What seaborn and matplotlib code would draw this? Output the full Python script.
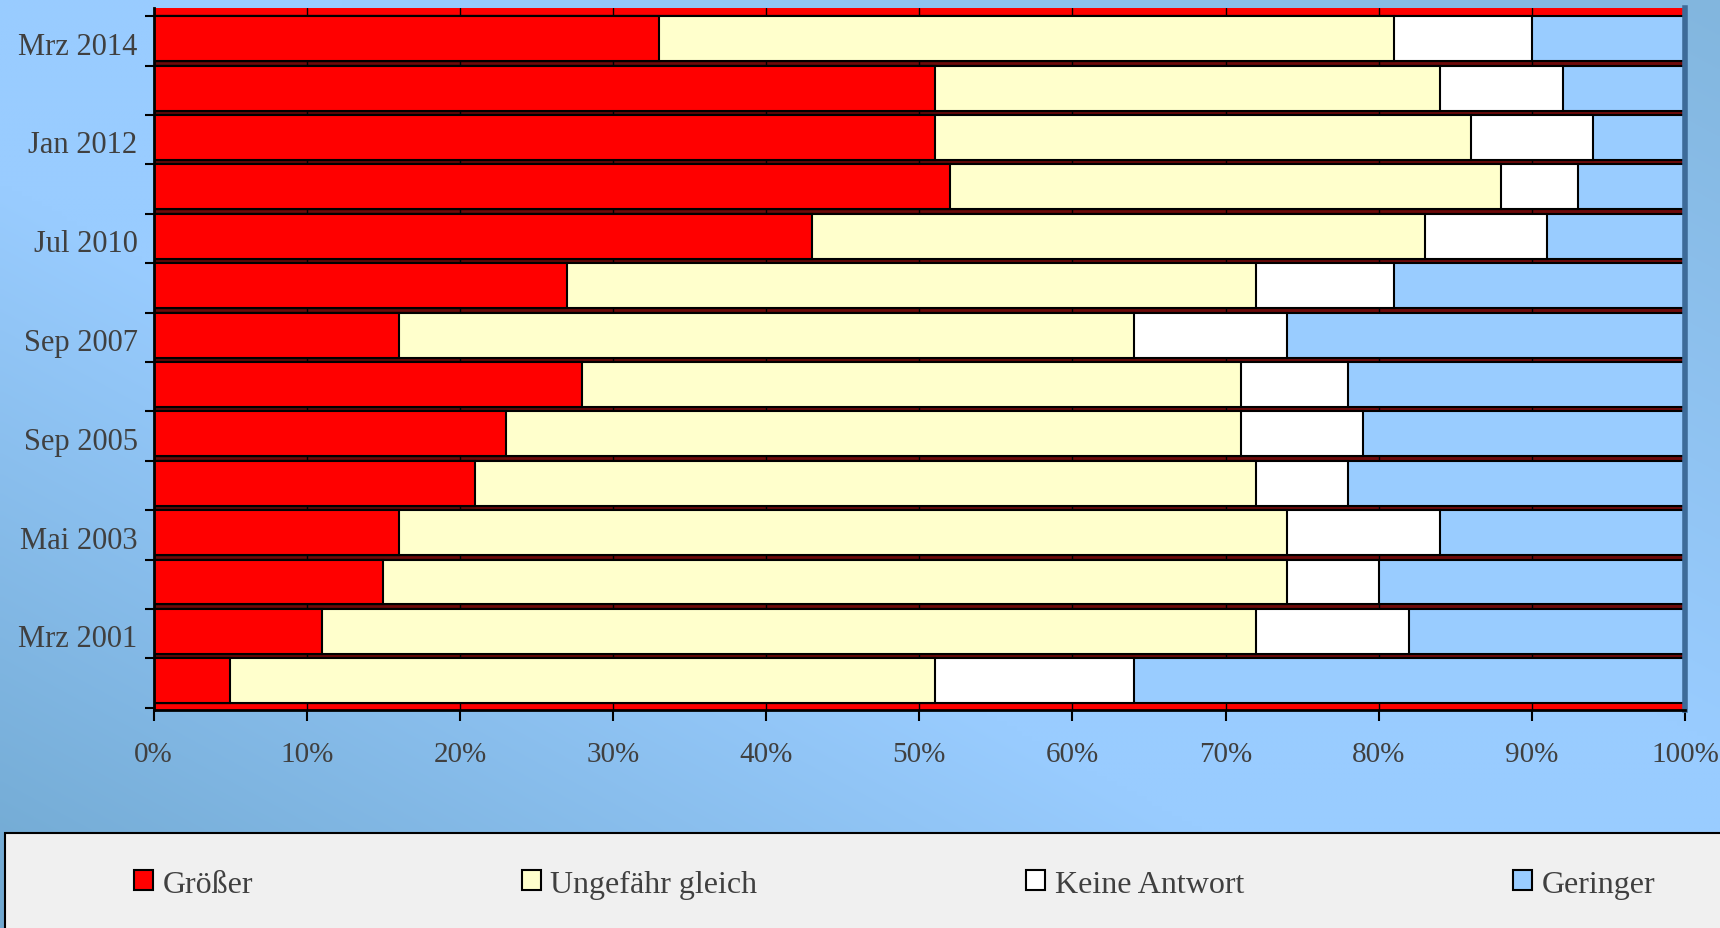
import numpy as np
import pandas as pd
import matplotlib
matplotlib.use("Agg")
import matplotlib.pyplot as plt
from matplotlib.patches import Patch, Rectangle
from matplotlib.transforms import ScaledTranslation
import seaborn as sns

# survey dates (only every second row is labelled in the original)
row_labels = ["Mrz 2014", "", "Jan 2012", "", "Jul 2010", "", "Sep 2007", "",
              "Sep 2005", "", "Mai 2003", "", "Mrz 2001", ""]

# shares in percent
groesser = [33, 51, 51, 52, 43, 27, 16, 28, 23, 21, 16, 15, 11, 5]
gleich = [48, 33, 35, 36, 40, 45, 48, 43, 48, 51, 58, 59, 61, 46]
keine = [9, 8, 8, 5, 8, 9, 10, 7, 8, 6, 10, 6, 10, 13]
geringer = [10, 8, 6, 7, 9, 19, 26, 22, 21, 22, 16, 20, 18, 36]

series_names = ["Größer", "Ungefähr gleich", "Keine Antwort", "Geringer"]
series_colors = ["#ff0000", "#ffffcc", "#ffffff", "#99ccff"]

rows = [f"row{i}" for i in range(len(row_labels))]
df = pd.DataFrame({
    "row": rows,
    "Größer": groesser,
    "Ungefähr gleich": gleich,
    "Keine Antwort": keine,
    "Geringer": geringer,
})
# cumulative sums for the stacked bars
cum = df[series_names].cumsum(axis=1)
cum["row"] = rows

sns.set_theme(style="white")
plt.rcParams["font.family"] = ["Liberation Serif", "DejaVu Serif"]
text_color = "#404040"

fig = plt.figure(figsize=(17.2, 9.29), dpi=100)

# blue gradient background
bg = fig.add_axes([0, 0, 1, 1], zorder=-10)
W, H = 344, 186
xx, yy = np.meshgrid(np.linspace(0, 1, W), np.linspace(0, 1, H))
u = xx - yy
light = np.array([0x99, 0xcc, 0xff]) / 255
dark_bl = np.array([0x70, 0xa8, 0xd0]) / 255
dark_tr = np.array([0x82, 0xb6, 0xde]) / 255
t = np.clip((np.abs(u) - 0.2) / 0.8, 0, 1)[..., None]
dark = np.where((u < 0)[..., None], dark_bl, dark_tr)
img = light * (1 - t) + dark * t
bg.imshow(img, extent=[0, 1, 0, 1], aspect="auto", interpolation="bilinear")
bg.set_axis_off()

ax = fig.add_axes([0.0893, 0.2347, 0.8904, 0.7556])
ax.set_facecolor("#6e0a0a")

for name, color in reversed(list(zip(series_names, series_colors))):
    sns.barplot(data=cum, x=name, y="row", order=rows, orient="h",
                color=color, saturation=1, edgecolor="black", linewidth=1.5,
                width=0.91, errorbar=None, ax=ax)

n = len(rows)
ax.set_xlim(0, 100)
ax.set_ylim(n - 1 + 0.59, -0.62)

# red strips at top and bottom (3D wall / floor look)
ax.axhspan(-0.62, -0.455, color="#ff0000", zorder=0.3)
ax.axhspan(n - 1 + 0.455, n - 1 + 0.59, color="#ff0000", zorder=0.3)
ax.xaxis.grid(True, color="black", linewidth=1)
ax.set_axisbelow(True)

ax.set_xticks(range(0, 101, 10))
ax.set_xticklabels([f"{v}%" for v in range(0, 101, 10)])
ax.set_yticks(range(n))
ax.set_yticklabels(row_labels)
ax.set_yticks([i - 0.455 for i in range(n)] + [n - 1 + 0.545], minor=True)
ax.set_xlabel("")
ax.set_ylabel("")

ax.tick_params(axis="y", which="major", length=0, pad=11.5,
               labelsize=22, labelcolor=text_color)
ax.tick_params(axis="y", which="minor", left=True, length=6.5, width=1.5,
               color="black")
ax.tick_params(axis="x", bottom=True, length=8, width=1.5, color="black",
               direction="out", pad=14, labelsize=21, labelcolor=text_color)
shift = ScaledTranslation(0, -0.04, fig.dpi_scale_trans)
for lab in ax.get_yticklabels():
    lab.set_transform(lab.get_transform() + shift)

for side in ["left", "bottom"]:
    ax.spines[side].set_color("black")
    ax.spines[side].set_linewidth(2)
ax.spines["top"].set_visible(False)
ax.spines["right"].set_color("#3d6b99")
ax.spines["right"].set_linewidth(4)

# legend box at the bottom
fig.patches.append(Rectangle((5 / 1720, -0.01), 1.0, (929 - 834) / 929 + 0.01,
                             transform=fig.transFigure, facecolor="#f0f0f0",
                             edgecolor="black", linewidth=1.5, zorder=-5))
handles = [Patch(facecolor=c, edgecolor="black", linewidth=1.5) for c in series_colors]
leg = fig.legend(handles, series_names, loc="center left",
                 bbox_to_anchor=(134 / 1720, 1 - 885 / 929, (1655 - 134) / 1720, 0.0),
                 mode="expand", ncol=4, frameon=False, fontsize=23,
                 handlelength=0.6, handleheight=0.6, handletextpad=0.3,
                 borderaxespad=0, borderpad=0)
for txt in leg.get_texts():
    txt.set_color(text_color)

fig.savefig("out.png", dpi=100)
